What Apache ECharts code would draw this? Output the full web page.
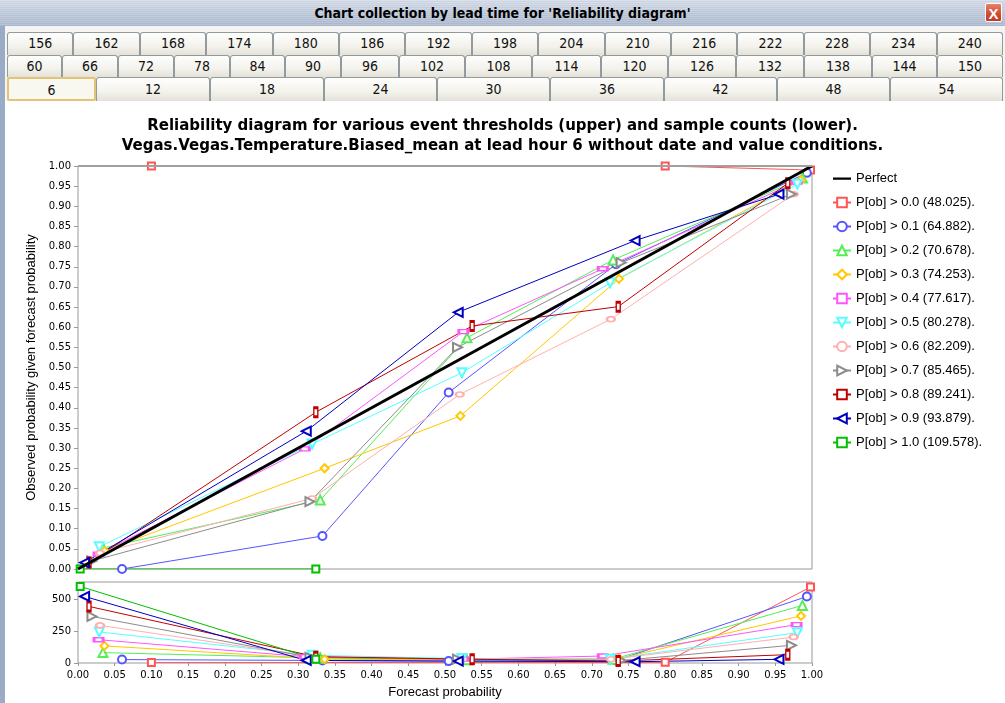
<!DOCTYPE html>
<html>
<head>
<meta charset="utf-8">
<script src="https://cdn.jsdelivr.net/npm/echarts@6/dist/echarts.min.js"></script>
<style>
  html, body { margin:0; padding:0; width:1005px; height:703px; overflow:hidden; background:#fff; }
  #chart { position:absolute; left:0; top:0; width:1005px; height:703px; }
  #titlebar { position:absolute; left:0; top:0; width:1005px; height:26px; z-index:5;
    background: repeating-linear-gradient(180deg, rgba(255,255,255,0.10) 0px, rgba(255,255,255,0.10) 1px, rgba(0,0,0,0.03) 1px, rgba(0,0,0,0.03) 2px),
                linear-gradient(180deg, #d6deea 0%, #bfcadb 55%, #aebcd2 100%);
    font: bold 14px "Liberation Sans Narrow","DejaVu Sans Condensed","Liberation Sans",sans-serif; color:#000;
    text-align:center; line-height:26px; }
  #closebtn { position:absolute; left:985px; top:3px; width:17px; height:19px; z-index:6;
    background: linear-gradient(180deg,#e8806a 0%,#d04a30 60%,#c03a22 100%); border:1px solid #fff; border-radius:2px;
    color:#fff; font: bold 15px "Liberation Sans",sans-serif; text-align:center; line-height:19px; box-sizing:border-box; }
  #tabzone { position:absolute; left:0; top:26px; width:1005px; height:75px; background:#f4f4f2; z-index:4; }
  #frame { position:absolute; left:0; top:26px; width:5px; height:677px; background:#9aabc6; z-index:7; }
  .tab { position:absolute; box-sizing:border-box; border:1px solid #929a9c; border-bottom:none; border-radius:3px 3px 0 0;
    background: linear-gradient(180deg,#fefefd 0%,#f3f2ec 60%,#e4e2d8 100%);
    font: 14px "Liberation Sans Narrow","DejaVu Sans Condensed","Liberation Sans",sans-serif; color:#111; text-align:center; }
  .tab.sel { background:#f8f7f0; border:2px solid #e2c477; border-radius:2px; }
</style>
</head>
<body>
<div id="chart"></div>
<div id="titlebar">Chart collection by lead time for 'Reliability diagram'</div>
<div id="closebtn">X</div>
<div id="tabzone"></div>
<div id="frame"></div>
<script>
// ---------- tab labels ----------
const tabRow1 = ['156','162','168','174','180','186','192','198','204','210','216','222','228','234','240'];
const tabRow2 = ['60','66','72','78','84','90','96','102','108','114','120','126','132','138','144','150'];
const tabRow3 = ['6','12','18','24','30','36','42','48','54'];

// ---------- chart data ----------
const thresholdNames = [
  'P[ob] > 0.0 (48.025).', 'P[ob] > 0.1 (64.882).', 'P[ob] > 0.2 (70.678).', 'P[ob] > 0.3 (74.253).',
  'P[ob] > 0.4 (77.617).', 'P[ob] > 0.5 (80.278).', 'P[ob] > 0.6 (82.209).', 'P[ob] > 0.7 (85.465).',
  'P[ob] > 0.8 (89.241).', 'P[ob] > 0.9 (93.879).', 'P[ob] > 1.0 (109.578).'
];
const perfectX = [0, 1];
const perfectY = [0, 1];

const fcst00 = [0.10, 0.80, 0.998];  const obs00 = [1.00, 1.00, 0.99];  const cnt00 = [3, 5, 600];
const fcst01 = [0.060, 0.333, 0.505, 0.733, 0.993]; const obs01 = [0.000, 0.082, 0.438, 0.756, 0.983]; const cnt01 = [27, 20, 15, 20, 525];
const fcst02 = [0.034, 0.330, 0.530, 0.729, 0.987]; const obs02 = [0.052, 0.171, 0.574, 0.767, 0.970]; const cnt02 = [82, 40, 25, 30, 455];
const fcst03 = [0.036, 0.336, 0.521, 0.737, 0.985]; const obs03 = [0.045, 0.250, 0.380, 0.720, 0.965]; const cnt03 = [135, 30, 25, 35, 372];
const fcst04 = [0.028, 0.309, 0.525, 0.715, 0.979]; const obs04 = [0.037, 0.298, 0.589, 0.745, 0.960]; const cnt04 = [184, 50, 30, 55, 303];
const fcst05 = [0.029, 0.319, 0.523, 0.725, 0.980]; const obs05 = [0.055, 0.310, 0.487, 0.710, 0.955]; const cnt05 = [245, 61, 35, 30, 240];
const fcst06 = [0.030, 0.319, 0.520, 0.726, 0.975]; const obs06 = [0.040, 0.175, 0.433, 0.620, 0.930]; const cnt06 = [297, 50, 30, 30, 205];
const fcst07 = [0.019, 0.316, 0.517, 0.740, 0.972]; const obs07 = [0.020, 0.167, 0.550, 0.760, 0.930]; const cnt07 = [368, 45, 30, 20, 140];
const fcst08 = [0.015, 0.324, 0.537, 0.736, 0.967]; const obs08 = [0.016, 0.389, 0.603, 0.651, 0.957]; const cnt08 = [447, 50, 30, 15, 66];
const fcst09 = [0.009, 0.311, 0.518, 0.759, 0.955]; const obs09 = [0.016, 0.342, 0.637, 0.815, 0.930]; const cnt09 = [526, 20, 15, 10, 29];
const fcst10 = [0.003, 0.324]; const obs10 = [0.000, 0.000]; const cnt10 = [605, 30];

const upperTicks = 0.05;   // upper y tick step
const lowerTicks = 250;    // lower y tick step

// ---------- tabs (chrome) ----------
(function buildTabs(){
  const zone = document.body;
  function addRow(labels, bounds, top, h, selIdx){
    labels.forEach((l,i)=>{
      const d = document.createElement('div');
      d.className = 'tab' + (i===selIdx ? ' sel' : '');
      d.style.left = bounds[i] + 'px';
      d.style.top = top + 'px';
      d.style.width = (bounds[i+1]-bounds[i]) + 'px';
      d.style.height = h + 'px';
      d.style.lineHeight = (h-2) + 'px';
      d.style.zIndex = 8;
      d.textContent = l;
      zone.appendChild(d);
    });
  }
  const b1 = tabRow1.map((_,i)=>7 + i*66.4); b1.push(1003);
  const b2 = [7, 62, 118, 174, 230, 285, 341, 399, 465, 532, 601, 668, 736, 804, 872, 937, 1003];
  const b3 = [7, 96, 210, 324, 437, 550, 664, 777, 890, 1003];
  addRow(tabRow1, b1, 32, 23, -1);
  addRow(tabRow2, b2, 55, 22, -1);
  addRow(tabRow3, b3, 77, 24, 0);
})();

// ---------- chart ----------
const colors = ['#ff5555','#5555ff','#55ee55','#ffc800','#ff55ff','#55ffff','#ffafaf','#8c8c8c','#c00000','#0000c0','#00c000'];
const symbols = ['emptyRect','emptyCircle','emptyTriangle','emptyDiamond','emptyRect','emptyTriangle','emptyCircle','emptyTriangle','emptyRect','emptyTriangle','emptyRect'];
const symSizes = [7, 8, 9, 8, [9,4], 9, [8,5], 9, [4,9], 9, 7];
const symRot = [0, 0, 0, 0, 0, 180, 0, -90, 0, 90, 0];
const fcsts = [fcst00,fcst01,fcst02,fcst03,fcst04,fcst05,fcst06,fcst07,fcst08,fcst09,fcst10];
const obss  = [obs00,obs01,obs02,obs03,obs04,obs05,obs06,obs07,obs08,obs09,obs10];
const cnts  = [cnt00,cnt01,cnt02,cnt03,cnt04,cnt05,cnt06,cnt07,cnt08,cnt09,cnt10];

const zip = (a,b)=>a.map((v,i)=>[v,b[i]]);
const series = [{
  name:'Perfect', type:'line', xAxisIndex:0, yAxisIndex:0, data: zip(perfectX, perfectY),
  symbol:'none', lineStyle:{color:'#000', width:3}, itemStyle:{color:'#000'}, z:5, animation:false
}];
thresholdNames.forEach((n,i)=>{
  const common = {
    name:n, type:'line', symbol:symbols[i], symbolSize:symSizes[i], symbolRotate:symRot[i],
    itemStyle:{color:colors[i], borderWidth:1}, lineStyle:{color:colors[i], width:1}, animation:false, z:3
  };
  series.push(Object.assign({}, common, {xAxisIndex:0, yAxisIndex:0, data: zip(fcsts[i], obss[i])}));
  series.push(Object.assign({}, common, {xAxisIndex:1, yAxisIndex:1, data: zip(fcsts[i], cnts[i])}));
});

const perfectIcon = 'path://M0,0 L0.01,0 L0.01,0.01 Z M0,4.8 L20,4.8 L20,7.4 L0,7.4 Z M19.99,12 L20,12 L20,11.99 Z';
const tickFont = {fontFamily:'DejaVu Sans', fontSize:10, color:'#000'};
const option = {
  backgroundColor:'#fff',
  title: {
    text: 'Reliability diagram for various event thresholds (upper) and sample counts (lower).\nVegas.Vegas.Temperature.Biased_mean at lead hour 6 without date and value conditions.',
    left: 'center', top: 111,
    textStyle: {fontFamily:'DejaVu Sans', fontWeight:'bold', fontSize:15, lineHeight:20, color:'#000'}
  },
  legend: {
    orient:'vertical', left:827, top:167, itemWidth:18, itemHeight:12, itemGap:11,
    data: [{name:'Perfect', icon:perfectIcon}].concat(thresholdNames),
    textStyle:{fontFamily:'Liberation Sans', fontSize:13, color:'#000'},
    inactiveColor:'#ccc'
  },
  grid: [
    {left:78, top:166, width:734, height:403, show:true, borderColor:'#999', borderWidth:1, backgroundColor:'#fff'},
    {left:78, top:582, width:734, height:81, show:true, borderColor:'#999', borderWidth:1, backgroundColor:'#fff'}
  ],
  xAxis: [
    {gridIndex:0, type:'value', min:0, max:1,
     axisLabel:{show:false}, axisTick:{show:false}, axisLine:{show:false}, splitLine:{show:false}},
    {gridIndex:1, type:'value', min:0, max:1, interval:0.05,
     axisLabel:Object.assign({formatter:v=>v.toFixed(2), margin:7}, tickFont),
     axisTick:{show:true, length:3, lineStyle:{color:'#999'}}, axisLine:{show:false}, splitLine:{show:false},
     name:'Forecast probability', nameLocation:'middle', nameGap:23,
     nameTextStyle:{fontFamily:'Liberation Sans', fontSize:13, color:'#000'}}
  ],
  yAxis: [
    {gridIndex:0, type:'value', min:0, max:1, interval:upperTicks,
     axisLabel:Object.assign({formatter:v=>v.toFixed(2), margin:7}, tickFont),
     axisTick:{show:true, length:4, lineStyle:{color:'#999'}}, axisLine:{show:false}, splitLine:{show:false},
     name:'Observed probability given forecast probability', nameLocation:'middle', nameGap:40,
     nameTextStyle:{fontFamily:'Liberation Sans', fontSize:13, color:'#000'}},
    {gridIndex:1, type:'value', min:0, max:640, interval:lowerTicks,
     axisLabel:Object.assign({margin:7, showMaxLabel:false}, tickFont),
     axisTick:{show:true, length:4, lineStyle:{color:'#999'}}, axisLine:{show:false}, splitLine:{show:false}}
  ],
  series: series
};
const chart = echarts.init(document.getElementById('chart'), null, {renderer:'canvas'});
chart.setOption(option);
// the plot's top border is drawn over lines that run along it (as in the original renderer)
const pA = chart.convertToPixel({gridIndex:0}, [0, 1]);
const pB = chart.convertToPixel({gridIndex:0}, [1, 1]);
chart.setOption({graphic:[{type:'line', z:100, silent:true,
  shape:{x1:pA[0], y1:pA[1], x2:pB[0], y2:pB[1]}, style:{stroke:'#a0a0a0', lineWidth:2}}]});
</script>
</body>
</html>
